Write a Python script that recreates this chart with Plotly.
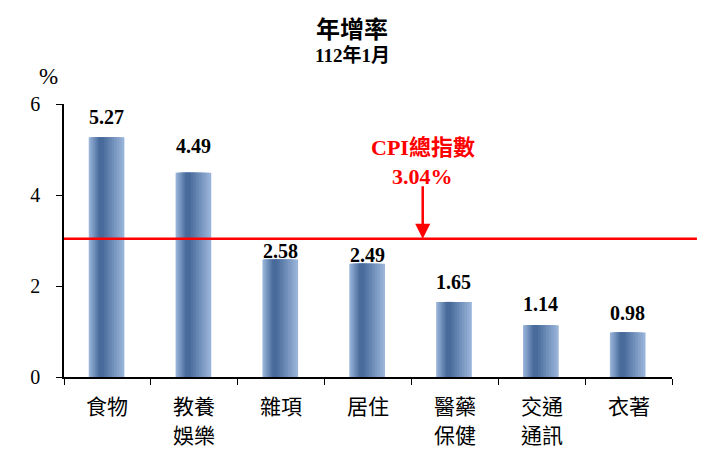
import plotly.graph_objects as go

categories = ["食物", "教養娛樂", "雜項", "居住", "醫藥保健", "交通通訊", "衣著"]
label_line1 = ["食物", "教養", "雜項", "居住", "醫藥", "交通", "衣著"]
label_line2 = ["", "娛樂", "", "", "保健", "通訊", ""]
values = [5.27, 4.49, 2.58, 2.49, 1.65, 1.14, 0.98]
cpi_total = 3.04
y_ticks = [0, 2, 4, 6]

# pixel lift of each value label above its bar (labels near the red line sit lower)
label_lift = [20, 27, 9, 9, 20, 21, 19]

serif = "Liberation Serif"
cjk = "Noto Sans CJK TC"

fig = go.Figure()

# fake horizontal gradient: stack of narrower, darker bars
light = (152, 179, 217)
dark = (72, 107, 155)
steps = 9
full_w = 0.41
for i in range(steps):
    t = i / (steps - 1)
    w = full_w * (1 - 0.85 * t)
    centre = -0.01 - 0.06 * t
    r, g, b = [int(light[k] + (dark[k] - light[k]) * t) for k in range(3)]
    fig.add_trace(go.Bar(
        x=categories,
        y=values,
        width=w,
        offset=centre - w / 2,
        marker=dict(color=f"rgb({r},{g},{b})", line=dict(width=0)),
        showlegend=False,
        hoverinfo="skip",
    ))

# value labels
for cat, v, lift in zip(categories, values, label_lift):
    fig.add_annotation(
        x=cat, y=v, yshift=lift, xshift=-1,
        text=f"<b>{v:.2f}</b>", showarrow=False, yanchor="middle",
        font=dict(family=serif, size=20, color="black"),
    )

# category labels, two lines with wide spacing
for cat, l1, l2 in zip(categories, label_line1, label_line2):
    fig.add_annotation(
        x=cat, xref="x", yref="paper", y=0, yshift=-28,
        text=l1, showarrow=False, yanchor="middle",
        font=dict(family=cjk, size=21, color="black"),
    )
    if l2:
        fig.add_annotation(
            x=cat, xref="x", yref="paper", y=0, yshift=-57,
            text=l2, showarrow=False, yanchor="middle",
            font=dict(family=cjk, size=21, color="black"),
        )

fig.add_shape(
    type="line", xref="paper", yref="y",
    x0=0, x1=1.041, y0=cpi_total, y1=cpi_total,
    line=dict(color="#ff0000", width=2.5),
)

fig.add_annotation(
    xref="paper", yref="y", x=0.59, y=cpi_total,
    ax=0, ay=-54, axref="pixel", ayref="pixel",
    showarrow=True, arrowhead=2, arrowsize=1.2, arrowwidth=2.5,
    arrowcolor="#ff0000", text="",
)
fig.add_annotation(
    xref="paper", yref="y", x=0.59, y=cpi_total, yshift=91,
    text="<b>CPI總指數</b>", showarrow=False, yanchor="middle",
    font=dict(family=serif + ", " + cjk, size=22, color="#ff0000"),
)
fig.add_annotation(
    xref="paper", yref="y", x=0.59, y=cpi_total, yshift=62,
    text=f"<b>{cpi_total:.2f}%</b>", showarrow=False, yanchor="middle",
    font=dict(family=serif, size=22, color="#ff0000"),
)

fig.add_annotation(
    xref="paper", yref="paper", x=0.474, y=1.0, yshift=77,
    text="<b>年增率</b>", showarrow=False, yanchor="middle", borderpad=0,
    font=dict(family=cjk, size=24, color="black"),
)
fig.add_annotation(
    xref="paper", yref="paper", x=0.474, y=1.0, yshift=49,
    text="<b>112年1月</b>", showarrow=False, yanchor="middle",
    font=dict(family=serif + ", " + cjk, size=19, color="black"),
)
fig.add_annotation(
    xref="paper", yref="paper", x=0, xshift=-27, y=1.0, yshift=28,
    text="%", showarrow=False, yanchor="middle",
    font=dict(family=serif, size=23, color="black"),
)

fig.update_layout(
    width=715, height=466,
    margin=dict(l=56, r=51, t=96, b=97),
    paper_bgcolor="white", plot_bgcolor="white",
    barmode="overlay",
    font=dict(family=cjk, color="black"),
)
fig.update_xaxes(
    showline=True, linecolor="black", linewidth=1.5,
    ticks="outside", ticklen=6, tickcolor="black", tickson="boundaries",
    showticklabels=False, automargin=False,
    showgrid=False, zeroline=False,
)
fig.update_yaxes(
    range=[0, 6], tickvals=y_ticks, automargin=False,
    showline=True, linecolor="black", linewidth=1.5,
    ticks="outside", ticklen=6, tickcolor="black",
    tickfont=dict(family=serif, size=20, color="black"),
    tickprefix="<b>", ticksuffix="</b>", ticklabelstandoff=12,
    showgrid=False, zeroline=False,
)

fig.write_html("out.html")
